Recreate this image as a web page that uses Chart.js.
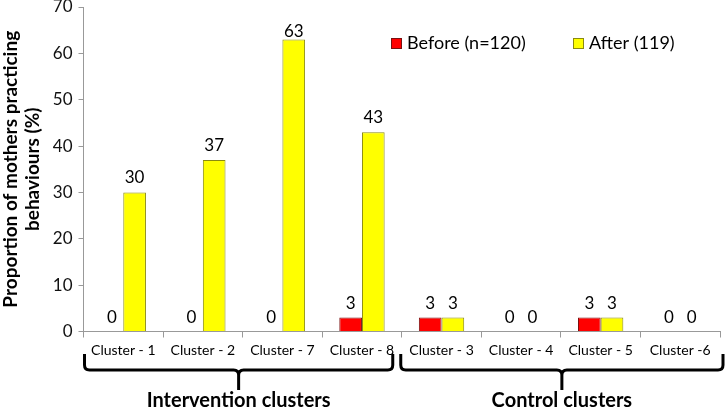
<!DOCTYPE html>
<html>
<head>
<meta charset="utf-8">
<script src="https://cdn.jsdelivr.net/npm/chart.js@4"></script>
<style>
  html, body { margin: 0; padding: 0; background: #ffffff; }
  #wrap { width: 725px; height: 410px; position: relative; }
</style>
</head>
<body>
<div id="wrap"><canvas id="c" width="725" height="410"></canvas></div>
<script>
const categories = ["Cluster - 1", "Cluster - 2", "Cluster - 7", "Cluster - 8", "Cluster - 3", "Cluster - 4", "Cluster - 5", "Cluster -6"];
const beforeValues = [0, 0, 0, 3, 3, 0, 3, 0];
const afterValues = [30, 37, 63, 43, 3, 0, 3, 0];
const seriesLabels = ["Before (n=120)", "After (119)"];
const yTicks = [0, 10, 20, 30, 40, 50, 60, 70];
const groups = [
  { label: "Intervention clusters", from: 0, to: 3 },
  { label: "Control clusters", from: 4, to: 7 }
];
const yTitle = ["Proportion of mothers practicing", "behaviours (%)"];

const FONT = "Lato, 'Open Sans', sans-serif";

const valueLabels = {
  id: 'valueLabels',
  afterDatasetsDraw(chart) {
    const ctx = chart.ctx;
    const top = chart.chartArea.top;
    ctx.save();
    ctx.font = "17px " + FONT;
    ctx.fillStyle = "#000";
    ctx.textAlign = "center";
    ctx.textBaseline = "alphabetic";
    chart.data.datasets.forEach((ds, di) => {
      const meta = chart.getDatasetMeta(di);
      meta.data.forEach((el, i) => {
        const yb = Math.max(el.y - 9, top + 30);
        ctx.fillText(String(ds.data[i]), el.x, yb);
      });
    });
    ctx.restore();
  }
};

const customLegend = {
  id: 'customLegend',
  afterDraw(chart) {
    const ctx = chart.ctx;
    ctx.save();
    ctx.font = "18px " + FONT;
    ctx.textBaseline = "middle";
    ctx.textAlign = "left";
    const xs = [391, 573];
    const y = 43;
    chart.data.datasets.forEach((ds, i) => {
      ctx.fillStyle = ds.backgroundColor;
      ctx.strokeStyle = ds.borderColor;
      ctx.lineWidth = 1;
      ctx.fillRect(xs[i], y - 5, 10, 10);
      ctx.strokeRect(xs[i] + 0.5, y - 4.5, 10, 10);
      ctx.fillStyle = "#000";
      ctx.fillText(ds.label, xs[i] + 16, y);
    });
    ctx.restore();
  }
};

const braces = {
  id: 'braces',
  afterDraw(chart) {
    const ctx = chart.ctx;
    const xs = chart.scales.x;
    const half = (xs.getPixelForValue(1) - xs.getPixelForValue(0)) / 2;
    ctx.save();
    ctx.strokeStyle = "#000";
    ctx.lineWidth = 3;
    ctx.lineJoin = "round";
    const yTop = 354, yBar = 370, yBot = 390, r = 5;
    groups.forEach((g, gi) => {
      let x1 = xs.getPixelForValue(g.from) - half + 1;
      let x2 = xs.getPixelForValue(g.to) + half - 9;
      if (gi === 1) { x1 = xs.getPixelForValue(g.from) - half - 1; x2 = xs.getPixelForValue(g.to) + half + 3; }
      const c = (x1 + x2) / 2;
      ctx.beginPath();
      ctx.moveTo(x1, yTop);
      ctx.lineTo(x1, yBar - r);
      ctx.quadraticCurveTo(x1, yBar, x1 + r, yBar);
      ctx.lineTo(c - r, yBar);
      ctx.quadraticCurveTo(c, yBar, c, yBar + r);
      ctx.lineTo(c, yBot);
      ctx.moveTo(c, yBar + r);
      ctx.quadraticCurveTo(c, yBar, c + r, yBar);
      ctx.lineTo(x2 - r, yBar);
      ctx.quadraticCurveTo(x2, yBar, x2, yBar - r);
      ctx.lineTo(x2, yTop);
      ctx.stroke();
      ctx.font = "bold 20px " + FONT;
      ctx.fillStyle = "#000";
      ctx.textAlign = "center";
      ctx.textBaseline = "middle";
      ctx.fillText(g.label, c, 401);
    });
    ctx.restore();
  }
};

new Chart(document.getElementById('c'), {
  type: 'bar',
  data: {
    labels: categories,
    datasets: [
      { label: seriesLabels[0], data: beforeValues, backgroundColor: "#FF0000", borderColor: "#7a1010", borderWidth: 1 },
      { label: seriesLabels[1], data: afterValues, backgroundColor: "#FFFF00", borderColor: "#8a8a10", borderWidth: 1 }
    ]
  },
  options: {
    responsive: false,
    animation: false,
    layout: { padding: { top: 0, right: 5, left: 0, bottom: 0 } },
    datasets: { bar: { categoryPercentage: 0.57, barPercentage: 1.0 } },
    plugins: { legend: { display: false }, tooltip: { enabled: false } },
    scales: {
      x: {
        grid: { display: true, drawOnChartArea: false, drawTicks: true, tickLength: 6, color: "#999", offset: true },
        border: { color: "#999", width: 1 },
        ticks: { font: { family: FONT, size: 14 }, color: "#000", padding: 5, maxRotation: 0, autoSkip: false },
        afterFit(s) { s.height = 78.5; }
      },
      y: {
        min: 0, max: 70,
        afterBuildTicks(s) { s.ticks = yTicks.map(v => ({ value: v })); },
        grid: { display: true, drawOnChartArea: false, drawTicks: true, tickLength: 5, color: "#999" },
        border: { color: "#999", width: 1 },
        ticks: { font: { family: FONT, size: 17, lineHeight: 0.2 }, color: "#111", padding: 6 },
        title: { display: true, text: yTitle, font: { family: FONT, size: 19, weight: 'bold', lineHeight: 1.15 }, color: "#000", padding: { top: 0, bottom: 4 } },
        afterFit(s) { s.width = 83.5; s.paddingTop = 7; }
      }
    }
  },
  plugins: [valueLabels, customLegend, braces]
});
</script>
</body>
</html>
